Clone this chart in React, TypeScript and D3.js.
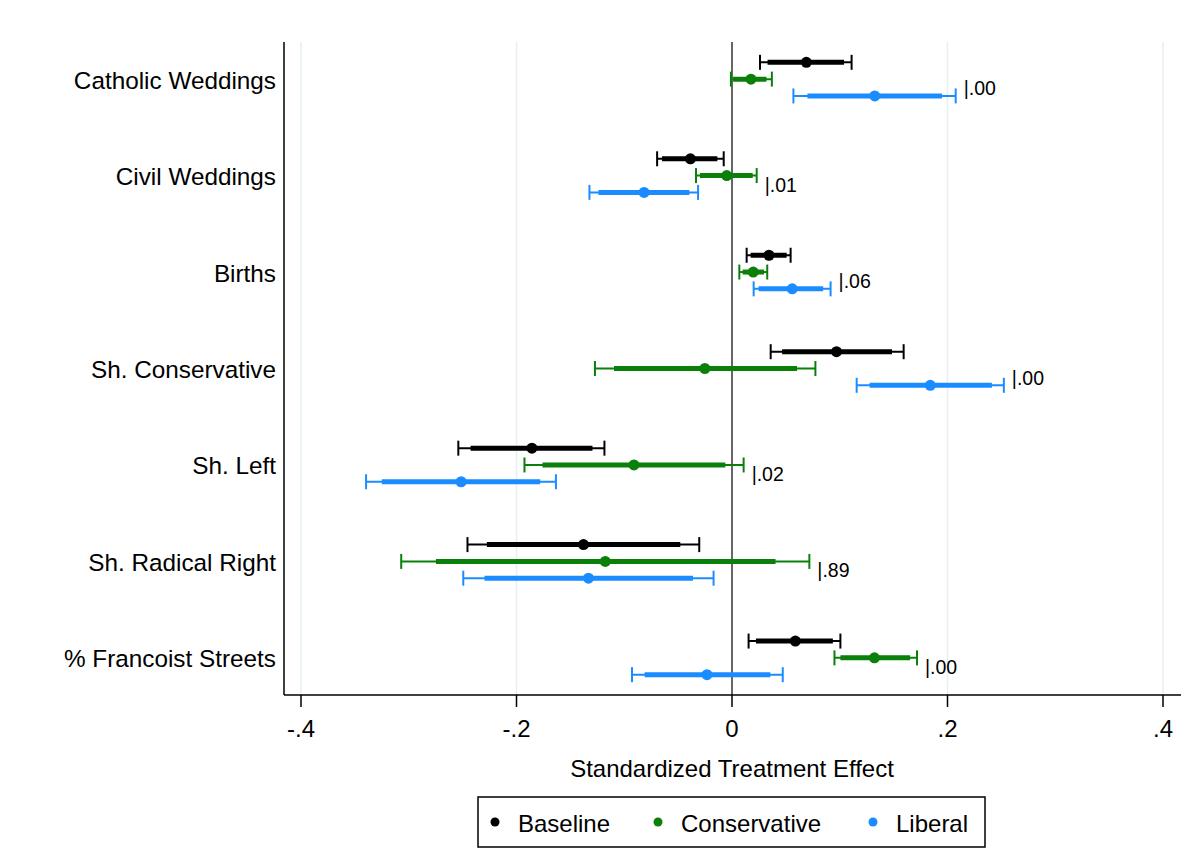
import React from "react";
import * as d3 from "d3";

const categories = [
  "Catholic Weddings",
  "Civil Weddings",
  "Births",
  "Sh. Conservative",
  "Sh. Left",
  "Sh. Radical Right",
  "% Francoist Streets",
];

const seriesNames = ["Baseline", "Conservative", "Liberal"];
const seriesColors = ["#000000", "#0a800a", "#1a8cff"];

// point estimates per category: [Baseline, Conservative, Liberal]
const estimates = [
  [0.069, 0.0176, 0.1325],
  [-0.0386, -0.0049, -0.0816],
  [0.0343, 0.0197, 0.0559],
  [0.097, -0.0252, 0.184],
  [-0.1857, -0.091, -0.2514],
  [-0.1378, -0.1176, -0.1332],
  [0.0588, 0.1322, -0.0232],
];

// 95% CI (thin with caps): [low, high]
const ci95 = [
  [[0.026, 0.111], [-0.001, 0.037], [0.057, 0.2076]],
  [[-0.0695, -0.0077], [-0.0334, 0.0229], [-0.1323, -0.0315]],
  [[0.0136, 0.0544], [0.0068, 0.0327], [0.0201, 0.0915]],
  [[0.0359, 0.1593], [-0.1272, 0.0774], [0.1157, 0.2523]],
  [[-0.254, -0.1184], [-0.1926, 0.0108], [-0.3396, -0.1634]],
  [[-0.2455, -0.0304], [-0.307, 0.0718], [-0.2494, -0.0171]],
  [[0.0154, 0.1006], [0.0951, 0.1717], [-0.0928, 0.0471]],
];

// 90% CI (thick): [low, high]
const ci90 = [
  [[0.033, 0.104], [0.001, 0.032], [0.07, 0.195]],
  [[-0.065, -0.0136], [-0.0297, 0.0192], [-0.1239, -0.0396]],
  [[0.0173, 0.0507], [0.0099, 0.0297], [0.0247, 0.0846]],
  [[0.0465, 0.1485], [-0.1095, 0.0604], [0.1277, 0.2412]],
  [[-0.2426, -0.1295], [-0.1759, -0.0062], [-0.325, -0.178]],
  [[-0.2275, -0.048], [-0.2748, 0.0404], [-0.2297, -0.0362]],
  [[0.0222, 0.0936], [0.1006, 0.1653], [-0.0811, 0.0356]],
];

const pLabels = [".00", ".01", ".06", ".00", ".02", ".89", ".00"];

const xTicks = [-0.4, -0.2, 0, 0.2, 0.4];
const xTickLabels = ["-.4", "-.2", "0", ".2", ".4"];
const xTitle = "Standardized Treatment Effect";

const W = 1198;
const H = 865;
const left = 284;
const right = 1181;
const top = 42;
const bottom = 695;

export default function App() {
  const x = d3.scaleLinear().domain([-0.4, 0.4]).range([301, 1163]);
  const y = d3.scalePoint<string>().domain(categories).range([top, bottom]).padding(0.385);
  const off = d3.scalePoint<string>().domain(seriesNames).range([-16.8, 16.8]);
  const font = "Arial, 'Liberation Sans', sans-serif";
  const capH = 7.5;

  return (
    <svg width={W} height={H} style={{ position: "absolute", left: 0, top: 0, background: "#fff" }}>
      <rect x={0} y={0} width={W} height={H} fill="#fff" />
      {/* gridlines */}
      {xTicks.filter((t) => t !== 0).map((t) => (
        <line key={"g" + t} x1={x(t)} x2={x(t)} y1={top} y2={bottom} stroke="#e6eff2" strokeWidth={1.5} />
      ))}
      {/* zero line */}
      <line x1={x(0)} x2={x(0)} y1={top} y2={bottom} stroke="#000" strokeWidth={1.2} />
      {/* axes */}
      <line x1={left} x2={left} y1={top} y2={bottom} stroke="#000" strokeWidth={1.5} />
      <line x1={left} x2={right} y1={bottom} y2={bottom} stroke="#000" strokeWidth={1.5} />
      {xTicks.map((t, i) => (
        <g key={"t" + t}>
          <line x1={x(t)} x2={x(t)} y1={bottom} y2={bottom + 12} stroke="#000" strokeWidth={1.5} />
          <text x={x(t)} y={bottom + 42} textAnchor="middle" fontFamily={font} fontSize={24} fill="#000">
            {xTickLabels[i]}
          </text>
        </g>
      ))}
      <text x={x(0)} y={777} textAnchor="middle" fontFamily={font} fontSize={24} fill="#000">
        {xTitle}
      </text>
      {/* category labels */}
      {categories.map((c) => (
        <text key={"c" + c} x={276} y={(y(c) as number) + 1} textAnchor="end" dominantBaseline="central" fontFamily={font} fontSize={24.3} fill="#000">
          {c}
        </text>
      ))}
      {/* estimates */}
      {categories.map((c, ci) => (
        <g key={"e" + c}>
          {seriesNames.map((s, si) => {
            const yy = (y(c) as number) + (off(s) as number);
            const col = seriesColors[si];
            const [l95, h95] = ci95[ci][si];
            const [l90, h90] = ci90[ci][si];
            return (
              <g key={s}>
                <line x1={x(l95)} x2={x(h95)} y1={yy} y2={yy} stroke={col} strokeWidth={2} />
                <line x1={x(l95)} x2={x(l95)} y1={yy - capH} y2={yy + capH} stroke={col} strokeWidth={2} />
                <line x1={x(h95)} x2={x(h95)} y1={yy - capH} y2={yy + capH} stroke={col} strokeWidth={2} />
                <line x1={x(l90)} x2={x(h90)} y1={yy} y2={yy} stroke={col} strokeWidth={5} />
                <circle cx={x(estimates[ci][si])} cy={yy} r={5.5} fill={col} />
              </g>
            );
          })}
          <text
            x={x(d3.max(ci95[ci], (d) => d[1]) as number) + 8}
            y={(y(c) as number) + 9}
            dominantBaseline="central"
            fontFamily={font}
            fontSize={19.5}
            fill="#000"
          >
            {"|" + pLabels[ci]}
          </text>
        </g>
      ))}
      {/* legend */}
      <rect x={478} y={797} width={507} height={50} fill="#fff" stroke="#000" strokeWidth={1.5} />
      {seriesNames.map((s, i) => {
        const lx = [495, 658, 873][i];
        return (
          <g key={"l" + s}>
            <circle cx={lx} cy={822} r={4.5} fill={seriesColors[i]} />
            <text x={lx + 23} y={823} dominantBaseline="central" fontFamily={font} fontSize={24} fill="#000">
              {s}
            </text>
          </g>
        );
      })}
    </svg>
  );
}
